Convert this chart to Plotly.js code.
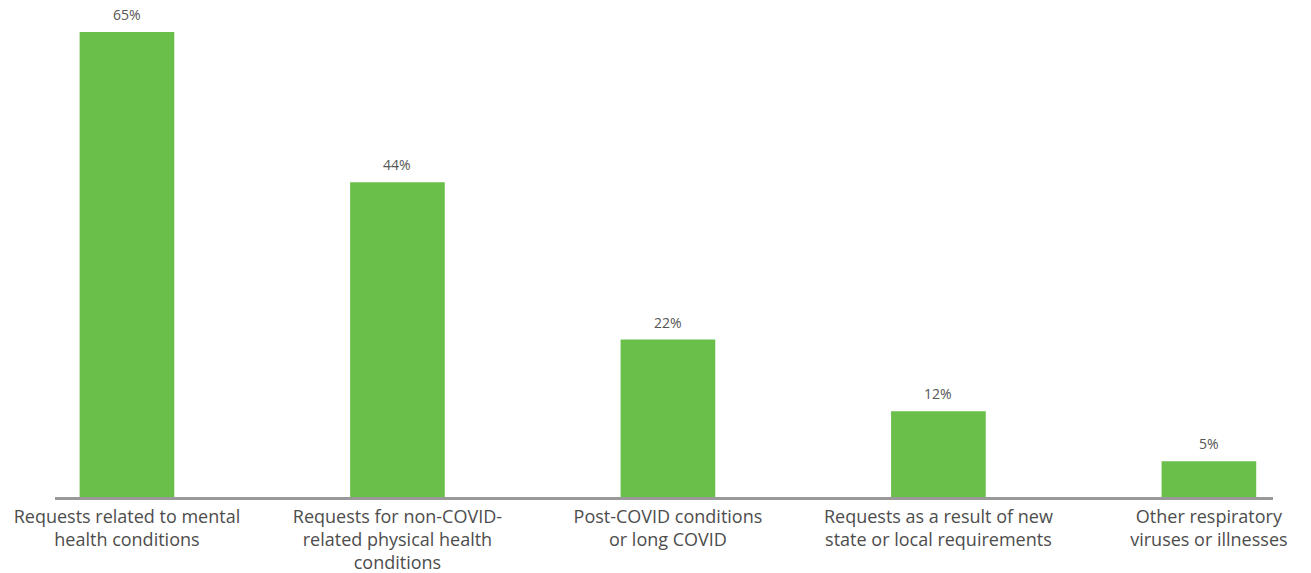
<!DOCTYPE html>
<html>
<head>
<meta charset="utf-8">
<script src="https://cdn.plot.ly/plotly-3.0.1.min.js"></script>
<style>
  html, body { margin: 0; padding: 0; background: #fff; }
  #chart { width: 1311px; height: 573px; }
</style>
</head>
<body>
<div id="chart"></div>
<script>
const categories = [
  "Requests related to mental<br>health conditions",
  "Requests for non-COVID-<br>related physical health<br>conditions",
  "Post-COVID conditions<br>or long COVID",
  "Requests as a result of new<br>state or local requirements",
  "Other respiratory<br>viruses or illnesses"
];
const values = [65, 44, 22, 12, 5];
const valueLabels = ["65%", "44%", "22%", "12%", "5%"];

const xs = categories.map((_, i) => i);
const fontFam = "'Open Sans', 'DejaVu Sans', sans-serif";

const trace = {
  type: "bar",
  x: xs,
  y: values,
  width: 0.35,
  marker: { color: "#6abf4b" },
  cliponaxis: false,
  hoverinfo: "skip"
};

// value labels above each bar
const annotations = xs.map((x, i) => ({
  x: x,
  y: values[i],
  xref: "x",
  yref: "y",
  text: valueLabels[i],
  showarrow: false,
  yanchor: "bottom",
  yshift: 6,
  font: { family: fontFam, size: 14, color: "#555555" }
}));

const layout = {
  width: 1311,
  height: 573,
  margin: { l: 55, r: 38, t: 0, b: 76 },
  paper_bgcolor: "#ffffff",
  plot_bgcolor: "#ffffff",
  showlegend: false,
  font: { family: fontFam, color: "#4d4d4d" },
  annotations: annotations,
  xaxis: {
    range: [-0.266, 4.237],
    tickmode: "array",
    tickvals: xs,
    ticktext: categories,
    tickfont: { family: fontFam, size: 18, color: "#4d4d4d" },
    ticklabelstandoff: 1,
    showline: true,
    linecolor: "#999999",
    linewidth: 3,
    ticks: "",
    showgrid: false,
    zeroline: false,
    fixedrange: true
  },
  yaxis: {
    range: [0, 69.47],
    visible: false,
    showgrid: false,
    zeroline: false,
    fixedrange: true
  }
};

Plotly.newPlot("chart", [trace], layout, { displayModeBar: false, staticPlot: true });
</script>
</body>
</html>
